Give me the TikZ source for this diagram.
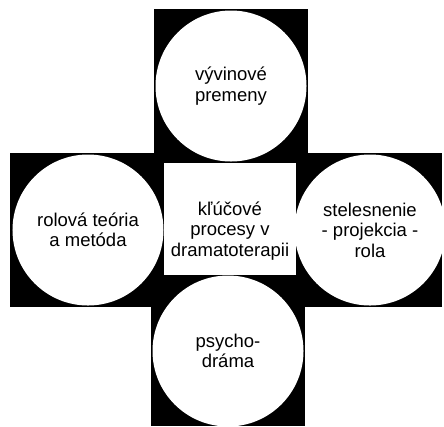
\documentclass[tikz,border=0pt]{standalone}
\usepackage{fontspec}
\setmainfont{Liberation Sans}
\usetikzlibrary{positioning}
\tikzset{
  proc/.style={circle,fill=white,minimum size=151bp,inner sep=0pt,align=center,
    font=\fontsize{18.5bp}{20.5bp}\selectfont},
  core/.style={rectangle,fill=white,minimum width=132bp,minimum height=112bp,
    inner sep=0pt},
  coretext/.style={align=center,inner sep=0pt,font=\fontsize{18.5bp}{20.5bp}\selectfont},
}
\begin{document}
\begin{tikzpicture}[x=1bp,y=-1bp]
\useasboundingbox (0,0) rectangle (444,426);
% black squares behind the circles
\fill[black] (154,9) rectangle (308,153);
\fill[black] (10,153) rectangle (226,307);
\fill[black] (226,153) rectangle (442,307);
\fill[black] (151,307) rectangle (305,426);
% circles and centre
\node[proc] (vyvin) at (231,86) {vývinové\\premeny};
\node[proc] (rolova) at (88,230) {rolová teória\\a metóda};
\node[proc] (stelesn) at (370,230) {stelesnenie\\- projekcia -\\rola};
\node[proc] (psycho) at (228,351) {psycho-\\dráma};
\node[core] (kluc) at (230,219) {};
\node[coretext] (kluctext) at ([yshift=-12bp]kluc.center) {kľúčové\\procesy v\\dramatoterapii};
\end{tikzpicture}
\end{document}
